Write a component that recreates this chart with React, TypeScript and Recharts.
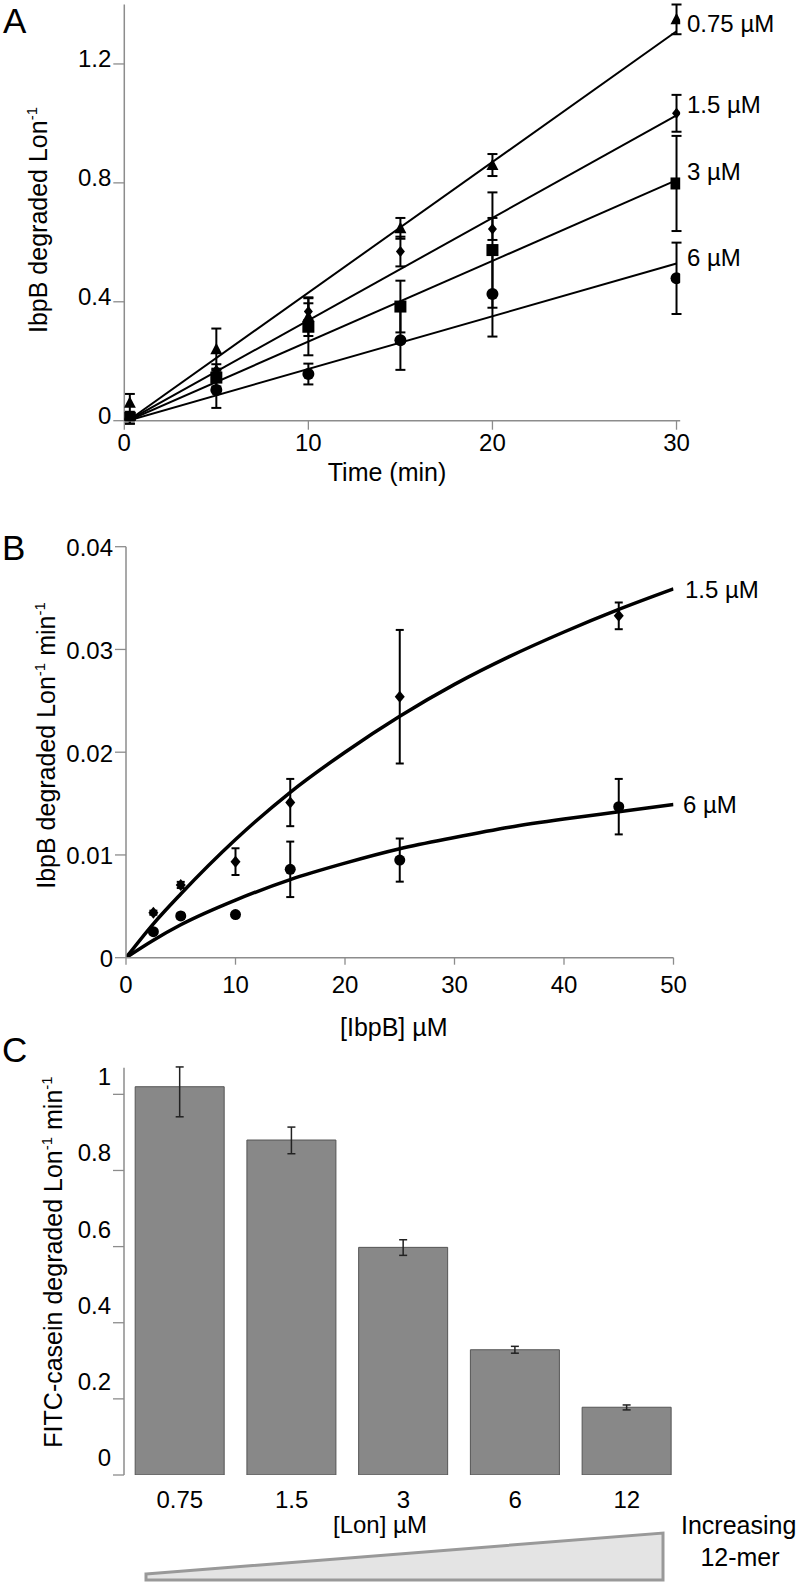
import React from 'react'
import { ComposedChart, BarChart, Bar, Line, Scatter, XAxis, YAxis, ErrorBar } from 'recharts'

const FONT = '"Liberation Sans", Arial, Helvetica, sans-serif'
const AXIS = '#8c8c8c'

// Panel A: IbpB degraded per Lon over time, one series per Lon concentration
const timeMin = [0.3, 5, 10, 15, 20, 30]
const lon075 = [0.06, 0.24, 0.35, 0.647, 0.86, 1.35]
const lon075Err = [0.03, 0.07, 0.065, 0.035, 0.037, 0.05]
const lon15 = [0.0, 0.17, 0.367, 0.569, 0.645, 1.034]
const lon15Err = [0.01, 0.02, 0.028, 0.05, 0.037, 0.062]
const lon3 = [0.01, 0.145, 0.316, 0.384, 0.574, 0.798]
const lon3Err = [0.01, 0.03, 0.096, 0.087, 0.194, 0.16]
const lon6 = [0.0, 0.103, 0.157, 0.271, 0.426, 0.479]
const lon6Err = [0.01, 0.06, 0.035, 0.1, 0.143, 0.12]
const fitTime = [0.2, 30]
const fit075 = [0, 1.31]
const fit15 = [0, 1.027]
const fit3 = [0, 0.809]
const fit6 = [0, 0.529]
const timeTicks = [0, 10, 20, 30]
const degTicks = [0, 0.4, 0.8, 1.2]

// Panel B: rate vs [IbpB]
const ibpbConc = [2.5, 5, 10, 15, 25, 45]
const rate15 = [0.00438, 0.00708, 0.00935, 0.0151, 0.0254, 0.03327]
const rate15Err = [0.0002, 0.0003, 0.0013, 0.0023, 0.0065, 0.0013]
const rate6 = [0.00253, 0.00406, 0.0042, 0.0086, 0.0095, 0.0147]
const rate6Err = [0.0002, 0.0003, 0.0002, 0.0027, 0.0021, 0.0027]
const curveConc = [0, 2.5, 5, 10, 15, 20, 25, 30, 35, 40, 45, 50]
const curve15 = [0, 0.0033, 0.0062, 0.0115, 0.0161, 0.02, 0.0235, 0.0266, 0.0293, 0.0317, 0.0339, 0.0359]
const curve6 = [0, 0.0017, 0.0032, 0.0056, 0.0076, 0.0092, 0.0106, 0.0117, 0.0127, 0.0135, 0.0142, 0.0149]
const concTicks = [0, 10, 20, 30, 40, 50]
const rateTicks = [0, 0.01, 0.02, 0.03, 0.04]

// Panel C: FITC-casein rate vs [Lon]
const lonLevels = ['0.75', '1.5', '3', '6', '12']
const caseinRate = [1.02, 0.88, 0.598, 0.329, 0.178]
const caseinErrLow = [0.079, 0.036, 0.021, 0.009, 0.007]
const caseinErrHigh = [0.052, 0.034, 0.02, 0.009, 0.006]
const caseinTicks = [0, 0.2, 0.4, 0.6, 0.8, 1]
const bandEdges = [0, 1, 2, 3, 4, 5]

const pts = (xs: number[], ys: number[], es?: number[]) =>
  xs.map((x, i) => ({ x, y: ys[i], e: es ? es[i] : 0 }))

const caseinData = lonLevels.map((lon, i) => ({
  lon,
  rate: caseinRate[i],
  err: [caseinErrLow[i], caseinErrHigh[i]],
}))

const makeTick =
  (anchor: 'start' | 'middle' | 'end', dy: number) =>
  (props: any) => {
    const { x, y, payload } = props
    return (
      <text x={x} y={y + dy} textAnchor={anchor} dominantBaseline="central" fontSize={24} fontFamily={FONT} fill="#000">
        {String(payload.value)}
      </text>
    )
  }

const Triangle = (p: any) => (
  <polygon points={`${p.cx},${p.cy - 6.5} ${p.cx + 6},${p.cy + 5} ${p.cx - 6},${p.cy + 5}`} fill="#000" />
)
const Diamond = (p: any) => (
  <polygon points={`${p.cx},${p.cy - 5.5} ${p.cx + 4.5},${p.cy} ${p.cx},${p.cy + 5.5} ${p.cx - 4.5},${p.cy}`} fill="#000" />
)
const Square = (p: any) => <rect x={p.cx - 6} y={p.cy - 6} width={12} height={12} fill="#000" />
const Dot = (p: any) => <circle cx={p.cx} cy={p.cy} r={6} fill="#000" />
const DiamondB = (p: any) => (
  <polygon points={`${p.cx},${p.cy - 6} ${p.cx + 5},${p.cy} ${p.cx},${p.cy + 6} ${p.cx - 5},${p.cy}`} fill="#000" />
)
const DotB = (p: any) => <circle cx={p.cx} cy={p.cy} r={5.5} fill="#000" />

const axisLine = { stroke: AXIS, strokeWidth: 1.5 }
const tickLine = { stroke: AXIS, strokeWidth: 1.3 }

function PanelA() {
  const series = [
    { d: pts(timeMin, lon075, lon075Err), shape: Triangle },
    { d: pts(timeMin, lon6, lon6Err), shape: Dot },
    { d: pts(timeMin, lon3, lon3Err), shape: Square },
    { d: pts(timeMin, lon15, lon15Err), shape: Diamond },
  ]
  const fits = [fit075, fit15, fit3, fit6]
  return (
    <ComposedChart width={799} height={500} margin={{ top: 4.5, right: 118.8, bottom: 29.3, left: 44.3 }}>
      <XAxis type="number" dataKey="x" domain={[0, 30.2]} ticks={timeTicks} allowDataOverflow height={50}
        tickSize={9} axisLine={axisLine} tickLine={tickLine} tick={makeTick('middle', 11)} />
      <YAxis type="number" dataKey="y" domain={[0, 1.4]} ticks={degTicks} allowDataOverflow width={80}
        tickSize={11} axisLine={axisLine} tickLine={tickLine} tick={makeTick('end', -5)} />
      {fits.map((f, i) => (
        <Line key={'f' + i} data={pts(fitTime, f)} dataKey="y" type="linear" stroke="#000" strokeWidth={2}
          dot={false} activeDot={false} isAnimationActive={false} />
      ))}
      {series.map((s, i) => (
        <Scatter key={'s' + i} data={s.d} dataKey="y" shape={s.shape} isAnimationActive={false}>
          <ErrorBar dataKey="e" direction="y" width={5} stroke="#000" strokeWidth={2} />
        </Scatter>
      ))}
    </ComposedChart>
  )
}

function PanelB() {
  return (
    <ComposedChart width={799} height={520} margin={{ top: 26.7, right: 125.5, bottom: 32.3, left: 46 }}>
      <XAxis type="number" dataKey="x" domain={[0, 50]} ticks={concTicks} allowDataOverflow height={50}
        tickSize={7} axisLine={axisLine} tickLine={tickLine} tick={makeTick('middle', 18)} />
      <YAxis type="number" dataKey="y" domain={[0, 0.04]} ticks={rateTicks} allowDataOverflow width={80}
        tickSize={11} axisLine={axisLine} tickLine={tickLine} tick={makeTick('end', 1)} />
      <Line data={pts(curveConc, curve15)} dataKey="y" type="monotone" stroke="#000" strokeWidth={3.5}
        dot={false} activeDot={false} isAnimationActive={false} />
      <Line data={pts(curveConc, curve6)} dataKey="y" type="monotone" stroke="#000" strokeWidth={3.5}
        dot={false} activeDot={false} isAnimationActive={false} />
      <Scatter data={pts(ibpbConc, rate15, rate15Err)} dataKey="y" shape={DiamondB} isAnimationActive={false}>
        <ErrorBar dataKey="e" direction="y" width={4} stroke="#000" strokeWidth={2} />
      </Scatter>
      <Scatter data={pts(ibpbConc, rate6, rate6Err)} dataKey="y" shape={DotB} isAnimationActive={false}>
        <ErrorBar dataKey="e" direction="y" width={4} stroke="#000" strokeWidth={2} />
      </Scatter>
    </ComposedChart>
  )
}

function PanelC() {
  return (
    <BarChart width={799} height={500} data={caseinData} barCategoryGap="10%"
      margin={{ top: 27.7, right: 116.3, bottom: 15, left: 44 }}>
      <XAxis xAxisId="edge" type="number" domain={[0, 5]} ticks={bandEdges} allowDataOverflow height={0}
        tickSize={12} axisLine={axisLine} tickLine={tickLine} tickFormatter={() => ''} />
      <XAxis xAxisId="lon" dataKey="lon" interval={0} height={50} tickSize={0} tickMargin={0}
        axisLine={false} tickLine={false} tick={makeTick('middle', 24)} />
      <YAxis domain={[0, 1.07]} ticks={caseinTicks} allowDataOverflow width={80}
        tickSize={11} axisLine={axisLine} tickLine={tickLine} tick={makeTick('end', -17.6)} />
      <Bar xAxisId="lon" dataKey="rate" fill="#888888" stroke="#555555" strokeWidth={1} isAnimationActive={false}>
        <ErrorBar dataKey="err" direction="y" width={4} stroke="#222" strokeWidth={1.5} />
      </Bar>
    </BarChart>
  )
}

const sup = (t: string) => (
  <tspan dy={-10} fontSize={15}>{t}</tspan>
)

export default function App() {
  return (
    <div style={{ position: 'absolute', left: 0, top: 0, width: 799, height: 1582, background: '#fff', overflow: 'hidden' }}>
      <div style={{ position: 'absolute', left: 0, top: 0 }}>
        <PanelA />
      </div>
      <div style={{ position: 'absolute', left: 0, top: 520 }}>
        <PanelB />
      </div>
      <div style={{ position: 'absolute', left: 0, top: 1040 }}>
        <PanelC />
      </div>
      <svg width={799} height={1582} style={{ position: 'absolute', left: 0, top: 0, pointerEvents: 'none' }}
        fontFamily={FONT} fill="#000">
        <text x={3} y={33} fontSize={35}>A</text>
        <text x={2} y={560} fontSize={35}>B</text>
        <text x={2} y={1062} fontSize={35}>C</text>

        <text transform="translate(47,220) rotate(-90)" textAnchor="middle" fontSize={25}>
          IbpB degraded Lon{sup('-1')}
        </text>
        <text x={387} y={481} textAnchor="middle" fontSize={25}>Time (min)</text>
        <text x={687} y={31.7} fontSize={24}>0.75 µM</text>
        <text x={687} y={113.3} fontSize={24}>1.5 µM</text>
        <text x={687} y={180} fontSize={24}>3 µM</text>
        <text x={687} y={266} fontSize={24}>6 µM</text>

        <text transform="translate(55,745.5) rotate(-90)" textAnchor="middle" fontSize={25}>
          IbpB degraded Lon{sup('-1')}<tspan dy={10} fontSize={25}> min</tspan>{sup('-1')}
        </text>
        <text x={340} y={1036} fontSize={25}>[IbpB] µM</text>
        <text x={685} y={598} fontSize={24}>1.5 µM</text>
        <text x={683} y={813} fontSize={24}>6 µM</text>

        <text transform="translate(62,1262) rotate(-90)" textAnchor="middle" fontSize={25}>
          FITC-casein degraded Lon{sup('-1')}<tspan dy={10} fontSize={25}> min</tspan>{sup('-1')}
        </text>
        <text x={333} y={1533} fontSize={24}>[Lon] µM</text>
        <polygon points="146,1574 663,1533 663,1580 146,1580" fill="#e4e4e4" stroke="#999" strokeWidth={3} />
        <text x={681} y={1534} fontSize={25}>Increasing</text>
        <text x={740} y={1566} textAnchor="middle" fontSize={25}>12-mer</text>
      </svg>
    </div>
  )
}
